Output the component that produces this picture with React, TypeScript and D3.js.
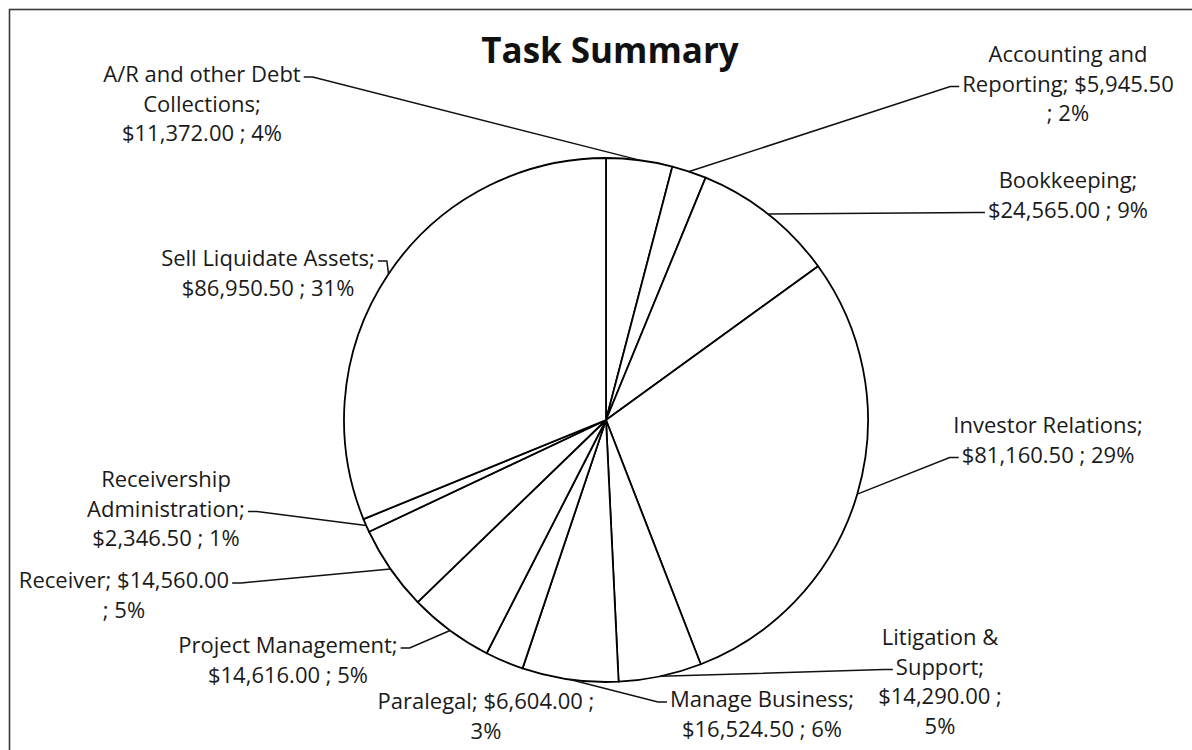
import React, { useEffect, useRef } from "react";
import * as d3 from "d3";

// ---- data ----
const categories = [
  "A/R and other Debt Collections",
  "Accounting and Reporting",
  "Bookkeeping",
  "Investor Relations",
  "Litigation & Support",
  "Manage Business",
  "Paralegal",
  "Project Management",
  "Receiver",
  "Receivership Administration",
  "Sell Liquidate Assets",
];
const amounts = [11372.0, 5945.5, 24565.0, 81160.5, 14290.0, 16524.5, 6604.0, 14616.0, 14560.0, 2346.5, 86950.5];
const labelLines = [
  ["A/R and other Debt", "Collections;", "$11,372.00 ; 4%"],
  ["Accounting and", "Reporting; $5,945.50", "; 2%"],
  ["Bookkeeping;", "$24,565.00 ; 9%"],
  ["Investor Relations;", "$81,160.50 ; 29%"],
  ["Litigation &", "Support;", "$14,290.00 ;", "5%"],
  ["Manage Business;", "$16,524.50 ; 6%"],
  ["Paralegal; $6,604.00 ;", "3%"],
  ["Project Management;", "$14,616.00 ; 5%"],
  ["Receiver; $14,560.00", "; 5%"],
  ["Receivership", "Administration;", "$2,346.50 ; 1%"],
  ["Sell Liquidate Assets;", "$86,950.50 ; 31%"],
];
const title = "Task Summary";

// ---- layout ----
const WIDTH = 1192;
const HEIGHT = 750;
const CX = 606;
const CY = 420;
const R = 262;
const LH = 29.5;
const FONT = "'Open Sans', 'DejaVu Sans', sans-serif";

type Side = "left" | "right" | "none";
const labelCX = [202, 1068, 1068, 1048, 940, 762, 486, 288, 124, 166, 268];
const labelY0 = [82, 62, 188, 433, 645, 707, 709, 653, 588, 487, 266];
const labelAttach = [0, 1, 1, 1, 1, 0, 0, 0, 0, 1, 0];
const labelSide: Side[] = ["left", "right", "right", "right", "right", "right", "none", "left", "left", "left", "left"];

export default function App() {
  const ref = useRef<SVGSVGElement | null>(null);

  useEffect(() => {
    if (!ref.current) return;
    const svg = d3.select(ref.current);
    svg.selectAll("*").remove();

    svg.append("rect").attr("x", 0).attr("y", 0).attr("width", WIDTH).attr("height", HEIGHT).attr("fill", "#fff");
    svg
      .append("rect")
      .attr("x", 9.5)
      .attr("y", 9.5)
      .attr("width", 1200)
      .attr("height", 760)
      .attr("fill", "none")
      .attr("stroke", "#3a3a3a")
      .attr("stroke-width", 1.6);

    svg
      .append("text")
      .attr("x", 610)
      .attr("y", 63)
      .attr("text-anchor", "middle")
      .attr("font-family", FONT)
      .attr("font-weight", 700)
      .attr("font-size", 35)
      .attr("fill", "#111")
      .text(title);

    const pie = d3.pie<number>().sort(null).value((d) => d);
    const arcs = pie(amounts);
    const arcGen = d3.arc<d3.PieArcDatum<number>>().innerRadius(0).outerRadius(R);
    const edgeArc = d3.arc<d3.PieArcDatum<number>>().innerRadius(R).outerRadius(R);

    const g = svg.append("g").attr("transform", `translate(${CX},${CY})`);
    g.selectAll("path.slice")
      .data(arcs)
      .join("path")
      .attr("class", "slice")
      .attr("d", (d) => arcGen(d) as string)
      .attr("fill", "#fff")
      .attr("stroke", "#000")
      .attr("stroke-width", 1.8)
      .attr("stroke-linejoin", "round")
      .append("title")
      .text((_, i) => categories[i]);

    const lineGen = d3.line<[number, number]>();
    const lg = svg.append("g");

    arcs.forEach((a, i) => {
      const lines = labelLines[i];
      const cx = labelCX[i];
      const y0 = labelY0[i];
      const widths: number[] = [];
      lines.forEach((t, k) => {
        const el = lg
          .append("text")
          .attr("x", cx)
          .attr("y", y0 + k * LH)
          .attr("text-anchor", "middle")
          .attr("font-family", FONT)
          .attr("font-size", 22)
          .attr("fill", "#1a1a1a")
          .text(t);
        widths.push((el.node() as SVGTextElement).getComputedTextLength());
      });
      const side = labelSide[i];
      if (side === "none") return;
      const k = labelAttach[i];
      const ay = y0 + k * LH - 5;
      const [px, py] = edgeArc.centroid(a);
      const pt: [number, number] = [CX + px, CY + py];
      let pts: [number, number][];
      if (side === "left") {
        const xs = cx + widths[k] / 2 + 3;
        pts = [[xs, ay], [xs + 9, ay], pt];
      } else {
        const xs = cx - widths[k] / 2 - 3;
        pts = [[xs, ay], [xs - 9, ay], pt];
      }
      lg.append("path")
        .attr("d", lineGen(pts) as string)
        .attr("fill", "none")
        .attr("stroke", "#111")
        .attr("stroke-width", 1.5);
    });
  }, []);

  return (
    <svg
      ref={ref}
      width={WIDTH}
      height={HEIGHT}
      style={{ position: "absolute", left: 0, top: 0, display: "block", background: "#fff" }}
    />
  );
}
